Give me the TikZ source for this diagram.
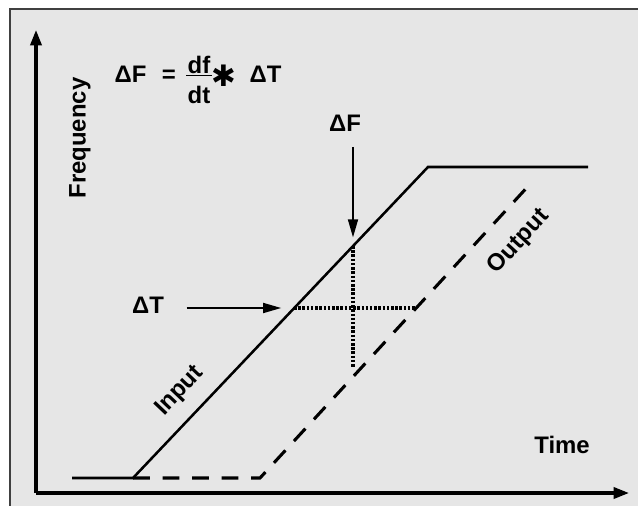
\documentclass[tikz,border=0pt]{standalone}
\usepackage{fontspec}
\setmainfont{Liberation Sans}
\newfontfamily\symfont{DejaVu Sans}
\usetikzlibrary{arrows.meta,calc}
\definecolor{paper}{HTML}{E6E6E6}
\tikzset{
axisarr/.style={line width=2.2pt,-{Triangle[length=11pt,width=8pt]}},
inputline/.style={line width=1.8pt,line join=miter},
outputline/.style={line width=2.2pt,dash pattern=on 12pt off 9pt},
guideline/.style={line width=2.6pt,dash pattern=on 1.8pt off 1.2pt},
callout/.style={line width=1.6pt,-{Triangle[length=13pt,width=7pt]}},
lbl/.style={font=\fontsize{17}{20}\selectfont\bfseries,inner sep=1pt}
}
\begin{document}
\begin{tikzpicture}[x=0.025cm,y=-0.025cm]
\useasboundingbox (0,0) rectangle (638,506);
\fill[white] (0,0) rectangle (638,506);
\fill[paper] (10,9) rectangle (638,506);
\draw[line width=1.3pt,black!75] (10,506) -- (10,9) -- (638,9);
% axes
\coordinate (orig) at (36,493);
\coordinate (ytop) at (36,30);
\coordinate (xend) at (629,493);
\draw[axisarr] (orig) -- (ytop);
\draw[axisarr] (orig) -- (xend);
% input and output ramps
\coordinate (in0) at (72,478);
\coordinate (in1) at (133,478);
\coordinate (in2) at (428,167);
\coordinate (in3) at (588,167);
\coordinate (out1) at (260,478);
\coordinate (out2) at (532,182);
\draw[inputline] (in0) -- (in1) -- (in2) -- (in3);
\draw[outputline] (in1) -- (out1) -- (out2);
% delay and offset
\coordinate (tl) at (294,308);
\coordinate (tr) at (416,308);
\coordinate (ft) at (353,246);
\coordinate (fb) at (353,368);
\draw[guideline] (tl) -- (tr);
\draw[guideline] (ft) -- (fb);
\node[lbl] (dF) at (345,123) {ΔF};
\node[lbl] (dT) at (148,305) {ΔT};
\draw[callout,shorten <=10pt,shorten >=6pt] (dF.south -| ft) -- (ft);
\draw[callout,shorten <=15pt,shorten >=9pt] (dT.east |- tl) -- (tl);
% formula
\node[lbl,anchor=base west] (eqlhs) at (113,82) {ΔF\hspace{11pt}=};
\node[lbl,anchor=base] (eqnum) at (199,73) {df};
\node[lbl,anchor=base] (eqden) at (199,103) {dt};
\draw[line width=1.4pt] (eqnum.west |- 0,75.5) -- (eqnum.east |- 0,75.5);
\node[font=\fontsize{21}{22}\selectfont\symfont,inner sep=0pt] (eqstar) at (224,76) {✱};
\node[lbl,anchor=base west] (eqrhs) at (248,82) {ΔT};
% labels
\node[lbl,rotate=90] (freq) at (80,138) {Frequency};
\node[lbl] (time) at (562,445) {Time};
\node[lbl,rotate=46.5] (inp) at (180,391) {Input};
\node[lbl,rotate=47.4] (outp) at (519,242) {Output};
\end{tikzpicture}
\end{document}
